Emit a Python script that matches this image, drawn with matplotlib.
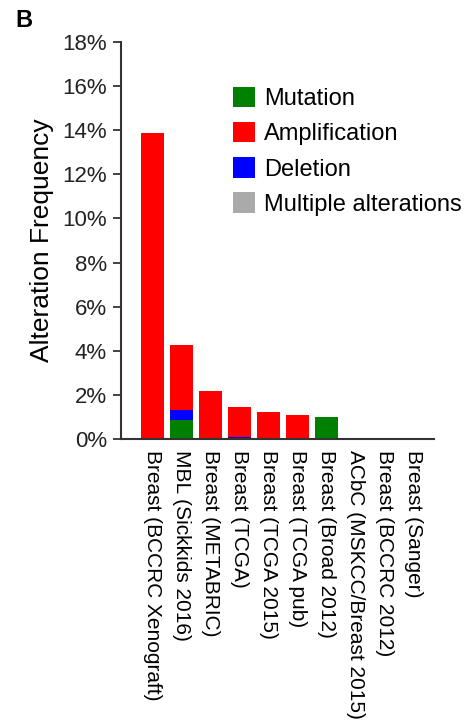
import numpy as np
import matplotlib.pyplot as plt

plt.rcParams['font.family'] = ['Liberation Sans', 'DejaVu Sans']

# Alteration frequency (%) per study
studies = ['Breast (BCCRC Xenograft)', 'MBL (Sickkids 2016)', 'Breast (METABRIC)',
           'Breast (TCGA)', 'Breast (TCGA 2015)', 'Breast (TCGA pub)',
           'Breast (Broad 2012)', 'ACbC (MSKCC/Breast 2015)', 'Breast (BCCRC 2012)',
           'Breast (Sanger)']
mutation      = [0.0, 0.85, 0.0, 0.0, 0.0, 0.0, 1.00, 0.0, 0.0, 0.0]
deletion      = [0.0, 0.47, 0.0, 0.07, 0.0, 0.0, 0.0, 0.0, 0.0, 0.0]
amplification = [13.88, 2.93, 2.16, 1.40, 1.24, 1.07, 0.0, 0.0, 0.0, 0.0]
multiple      = [0.0] * 10

series = [('Mutation', mutation, '#008000'),
          ('Amplification', amplification, '#ff0000'),
          ('Deletion', deletion, '#0000ff'),
          ('Multiple alterations', multiple, '#aaaaaa')]
stack_order = ['Mutation', 'Deletion', 'Amplification', 'Multiple alterations']

fig = plt.figure(figsize=(4.68, 7.27), dpi=100)
ax = fig.add_axes([121/468, 1-439/727, (434-121)/468, (439-42)/727])

x = np.arange(len(studies))
bottom = np.zeros(len(studies))
handles = {}
lookup = {name: (vals, col) for name, vals, col in series}
for name in stack_order:
    vals, col = lookup[name]
    b = ax.bar(x, vals, 0.8, bottom=bottom, color=col, label=name)
    handles[name] = b
    bottom += np.array(vals)

ax.set_xlim(-1.09, 9.7)
ax.set_ylim(0, 18)
ax.set_yticks(np.arange(0, 19, 2))
ax.set_yticklabels(['%d%%' % v for v in range(0, 19, 2)], fontsize=16, color='#222222')
ax.set_xticks(x)
ax.set_xticklabels(studies, rotation=270, fontsize=15, va='top', ha='center')
ax.tick_params(axis='x', length=0, pad=8)
ax.tick_params(axis='y', length=6, width=1.3, color='#333333', pad=4)
for s in ['top', 'right']:
    ax.spines[s].set_visible(False)
for s in ['left', 'bottom']:
    ax.spines[s].set_linewidth(1.5)
    ax.spines[s].set_color('#333333')
ax.set_ylabel('Alteration Frequency', fontsize=19, labelpad=6)

names = [n for n, _, _ in series]
fig.legend([handles[n] for n in names], names, loc='upper left',
           bbox_to_anchor=(233/468, 1-87/727), bbox_transform=fig.transFigure,
           frameon=False, fontsize=17, borderpad=0, borderaxespad=0,
           handlelength=0.95, handleheight=0.95, handletextpad=0.35,
           labelspacing=0.5)

fig.text(15/468, 1-9/727, 'B', fontsize=17, fontweight='bold', va='top', ha='left')

fig.savefig('out.png', dpi=100)
